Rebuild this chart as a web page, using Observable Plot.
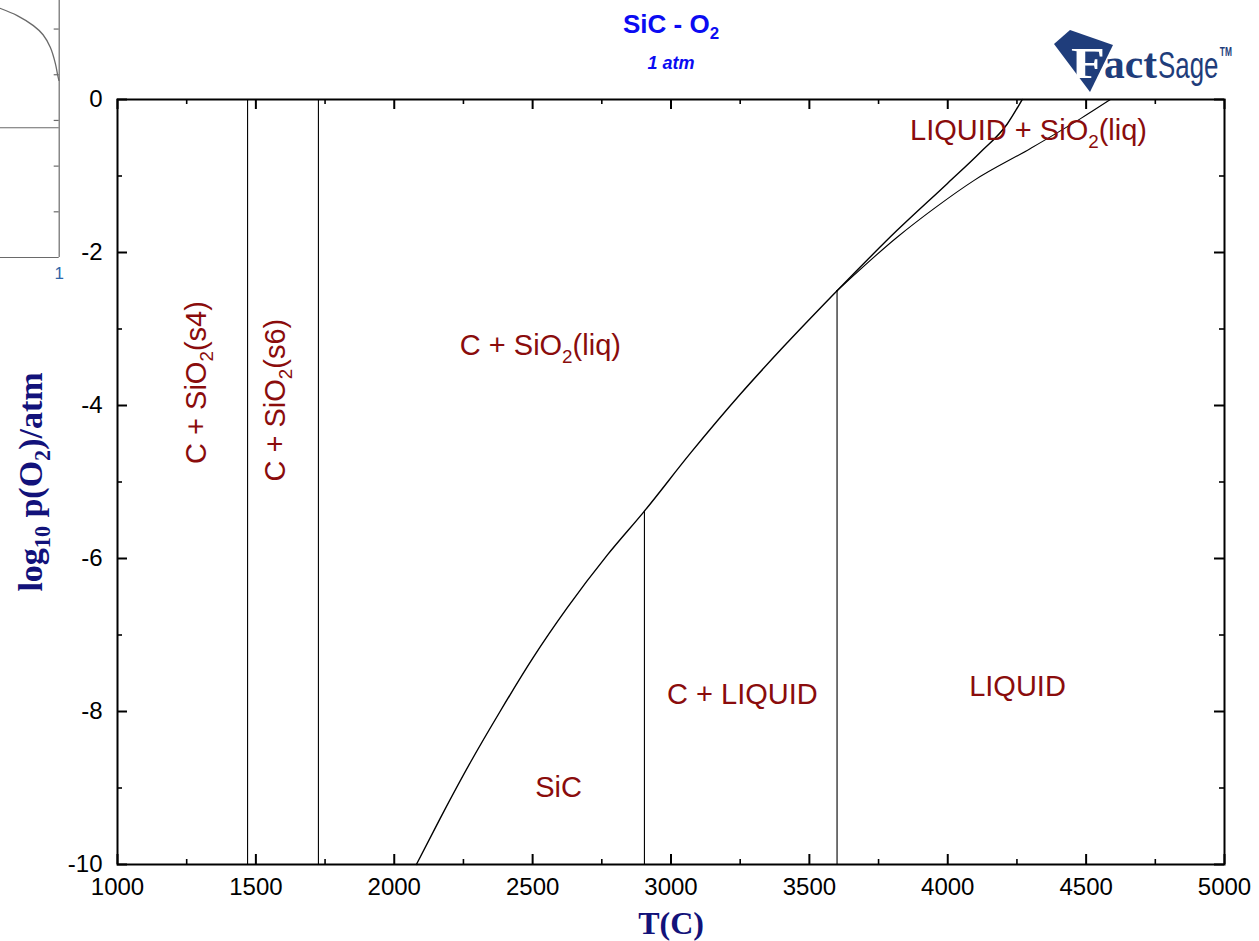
<!DOCTYPE html>
<html>
<head>
<meta charset="utf-8">
<script src="https://cdn.jsdelivr.net/npm/d3@7"></script>
<script src="https://cdn.jsdelivr.net/npm/@observablehq/plot@0.6"></script>
<style>
html,body{margin:0;padding:0;background:#fff;}
#wrap{position:relative;width:1259px;height:941px;overflow:hidden;background:#fff;}
#wrap > svg{position:absolute;left:0;top:0;}
</style>
</head>
<body>
<div id="wrap"></div>
<script>
// ---------- texts ----------
const titleText = "SiC - O_2";
const subtitleText = "1 atm";
const xLabel = "T(C)";
const yLabel = "log_10 p(O_2)/atm";

// ---------- tick values ----------
const xMajorTicks = [1000, 1500, 2000, 2500, 3000, 3500, 4000, 4500, 5000];
const xMinorTicks = [1250, 1750, 2250, 2750, 3250, 3750, 4250, 4750];
const yMajorTicks = [0, -2, -4, -6, -8, -10];
const yMinorTicks = [-1, -3, -5, -7, -9];

// ---------- phase boundaries (T in C, log10 pO2) ----------
const boundaryT    = [2080, 2167, 2276, 2384, 2503, 2626, 2771, 2904, 3071, 3251, 3407, 3600];
const boundaryLogP = [-10, -9.39, -8.66, -7.99, -7.29, -6.64, -5.95, -5.38, -4.62, -3.85, -3.23, -2.50];

const steepT    = [3600, 3817, 3998, 4118, 4215, 4269];
const steepLogP = [-2.50, -1.71, -1.10, -0.69, -0.32, 0];

const shallowT    = [3600, 3817, 3960, 4094, 4299, 4480, 4588];
const shallowLogP = [-2.50, -1.80, -1.40, -1.06, -0.64, -0.25, 0];

const verticalT       = [1470, 1726, 2904, 3600];
const verticalTopLogP = [0, 0, -5.38, -2.50];

// ---------- region labels ----------
const regionNames  = ["C + SiO_2(s4)", "C + SiO_2(s6)", "C + SiO_2(liq)", "LIQUID + SiO_2(liq)", "C + LIQUID", "LIQUID", "SiC"];
const regionT      = [1285, 1571, 2528, 4292, 3258, 4252, 2594];
const regionLogP   = [-3.70, -3.93, -3.22, -0.41, -7.78, -7.67, -9.0];
const regionRotate = [-90, -90, 0, 0, 0, 0, 0];

// ---------- stray inset fragment (top-left) ----------
const insetCurveX = [0.80, 0.857, 0.912, 0.945, 0.970, 0.987, 0.995, 0.999];
const insetCurveY = [1.090, 1.059, 1.015, 0.975, 0.919, 0.849, 0.797, 0.775];
const insetTicks  = [0.2, 0.4, 0.6, 0.8, 1.0];
const insetLevel  = [0.568];
const insetXTicks = [1];

// ---------- build ----------
const W = 1259, H = 941, mL = 117, mR = 35, mT = 99, mB = 77;
const iw = W - mL - mR, ih = H - mT - mB;
const sans = "'Liberation Sans', Arial, Helvetica, sans-serif";
const serif = "'Liberation Serif', 'Times New Roman', serif";
const labelRed = "#8a0c0c";
const navy = "#12127a";
const blue = "#0b0bf2";

const toRows = (xs, ys) => xs.map((x, i) => ({x, y: ys[i]}));
const verticals = verticalT.map((t, i) => ({t, top: verticalTopLogP[i], bottom: yMajorTicks[yMajorTicks.length - 1]}));
const regions = regionNames.map((name, i) => ({name, t: regionT[i], p: regionLogP[i], r: regionRotate[i]}));

const main = Plot.plot({
  width: W, height: H,
  marginLeft: mL, marginRight: mR, marginTop: mT, marginBottom: mB,
  style: {fontFamily: sans, background: "white", maxWidth: "none", overflow: "visible"},
  x: {domain: [1000, 5000]},
  y: {domain: [-10, 0]},
  marks: [
    Plot.axisX(xMajorTicks, {tickSize: 0, tickPadding: 13, fontSize: 24, tickFormat: d => String(d), label: null, fill: "black"}),
    Plot.axisY(yMajorTicks, {tickSize: 0, tickPadding: 15, fontSize: 24, tickFormat: d => String(d), label: null, fill: "black"}),
    // inward ticks on all four sides
    Plot.tickX(xMajorTicks, {x: d => d, insetTop: ih - 10, strokeWidth: 2}),
    Plot.tickX(xMajorTicks, {x: d => d, insetBottom: ih - 10, strokeWidth: 2}),
    Plot.tickX(xMinorTicks, {x: d => d, insetTop: ih - 5, strokeWidth: 1.6}),
    Plot.tickX(xMinorTicks, {x: d => d, insetBottom: ih - 5, strokeWidth: 1.6}),
    Plot.tickY(yMajorTicks, {y: d => d, insetRight: iw - 10, strokeWidth: 2}),
    Plot.tickY(yMajorTicks, {y: d => d, insetLeft: iw - 10, strokeWidth: 2}),
    Plot.tickY(yMinorTicks, {y: d => d, insetRight: iw - 5, strokeWidth: 1.6}),
    Plot.tickY(yMinorTicks, {y: d => d, insetLeft: iw - 5, strokeWidth: 1.6}),
    // phase boundaries
    Plot.ruleX(verticals, {x: "t", y1: "bottom", y2: "top", stroke: "black", strokeWidth: 1.1}),
    Plot.line(toRows(boundaryT, boundaryLogP), {x: "x", y: "y", curve: "monotone-x", stroke: "black", strokeWidth: 1.4}),
    Plot.line(toRows(steepT, steepLogP), {x: "x", y: "y", curve: "monotone-x", stroke: "black", strokeWidth: 1.4}),
    Plot.line(toRows(shallowT, shallowLogP), {x: "x", y: "y", curve: "monotone-x", stroke: "black", strokeWidth: 1.1}),
    // region labels
    Plot.text(regions, {x: "t", y: "p", text: "name", rotate: "r", fontSize: 29, fill: labelRed}),
    // titles
    Plot.text([titleText], {text: d => d, frameAnchor: "top", dy: 32 - mT, lineAnchor: "bottom", fontSize: 26, fontWeight: "bold", fill: blue}),
    Plot.text([subtitleText], {text: d => d, frameAnchor: "top", dy: 68 - mT, lineAnchor: "bottom", fontSize: 18, fontWeight: "bold", fontStyle: "italic", fill: blue}),
    // axis labels
    Plot.text([xLabel], {text: d => d, frameAnchor: "bottom", dy: 933 - (H - mB), lineAnchor: "bottom", fontSize: 32, fontWeight: "bold", fontFamily: serif, fill: navy}),
    Plot.text([yLabel], {text: d => d, frameAnchor: "left", textAnchor: "middle", dx: 41 - mL, rotate: -90, lineAnchor: "bottom", fontSize: 34, fontWeight: "bold", fontFamily: serif, fill: navy}),
    Plot.frame({stroke: "black", strokeWidth: 2})
  ]
});

// subscripts: "_digits" -> lowered smaller tspan
function subify(root) {
  d3.select(root).selectAll("text").each(function() {
    const s = this.textContent;
    if (!/_\d/.test(s)) return;
    const parts = s.split(/_(\d+)/);
    const el = d3.select(this);
    el.text(null);
    parts.forEach((p, i) => {
      if (i % 2 === 0) {
        if (!p) return;
        const ts = el.append("tspan").text(p);
        if (i > 0) ts.attr("dy", "-0.26em");
      } else {
        el.append("tspan").attr("font-size", "65%").attr("dy", "0.4em").text(p);
      }
    });
  });
}
subify(main);

const inset = Plot.plot({
  width: 70, height: 290,
  marginLeft: 0, marginRight: 11.3, marginTop: 0, marginBottom: 33,
  style: {background: "transparent", maxWidth: "none", overflow: "visible", fontFamily: sans},
  x: {domain: [0.8, 1]},
  y: {domain: [0, 1.125], axis: null},
  marks: [
    Plot.ruleX(insetXTicks, {stroke: "#6a6a6a", strokeWidth: 1.2}),
    Plot.ruleY([0], {stroke: "#6a6a6a", strokeWidth: 1.2}),
    Plot.ruleY(insetLevel, {stroke: "#6a6a6a", strokeWidth: 1.2}),
    Plot.tickY(insetTicks, {y: d => d, insetLeft: 58.7 - 5, stroke: "#6a6a6a", strokeWidth: 1.2}),
    Plot.line(toRows(insetCurveX, insetCurveY), {x: "x", y: "y", curve: "catmull-rom", stroke: "#6a6a6a", strokeWidth: 1.3}),
    Plot.axisX(insetXTicks, {tickSize: 0, tickPadding: 9, fontSize: 17, tickFormat: d => String(d), label: null, fill: "#2f66a8"})
  ]
});

const wrap = document.getElementById("wrap");
wrap.appendChild(main);
wrap.appendChild(inset);

// FactSage logo
const logo = d3.create("svg").attr("width", 219).attr("height", 80)
  .style("left", "1040px").style("top", "20px").style("position", "absolute");
const logoNavy = "#1f3d7b";
logo.append("polygon").attr("points", "14,24 30,10 73,25 50,72").attr("fill", logoNavy);
logo.append("text").attr("x", 31).attr("y", 58).attr("font-family", serif).attr("font-weight", "bold")
  .attr("font-size", 44).attr("fill", "white").attr("textLength", 34).attr("lengthAdjust", "spacingAndGlyphs").text("F");
logo.append("text").attr("x", 64).attr("y", 58).attr("font-family", serif).attr("font-weight", "bold")
  .attr("font-size", 42).attr("fill", logoNavy).attr("textLength", 53).attr("lengthAdjust", "spacingAndGlyphs").text("act");
const sx = 0.7;
const sage = logo.append("text").attr("x", 118 / sx).attr("y", 58).attr("transform", `scale(${sx},1)`)
  .attr("font-family", "'Liberation Sans Narrow', 'Liberation Sans', sans-serif")
  .attr("font-size", 37).attr("fill", logoNavy);
sage.append("tspan").text("Sage");
sage.append("tspan").attr("font-size", 12).attr("font-weight", "bold").attr("dy", -22).attr("dx", 2).text("TM");
wrap.appendChild(logo.node());
</script>
</body>
</html>
